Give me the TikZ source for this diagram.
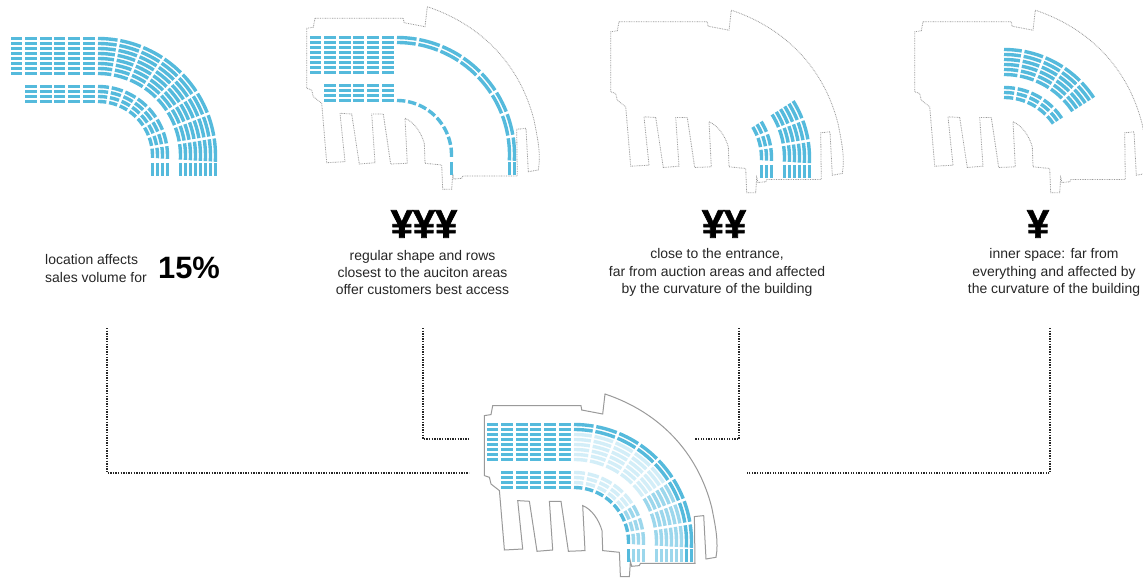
\documentclass[tikz,border=0pt]{standalone}
\usepackage{fontspec}
\setmainfont{Liberation Sans}
\newfontfamily\yenface{Liberation Sans}[BoldFeatures={FakeBold=1.5}]
\definecolor{seatblue}{HTML}{55BADC}
\definecolor{seatmid}{HTML}{9CD7EC}
\definecolor{seatpale}{HTML}{D3EEF8}
\definecolor{plangray}{HTML}{9A9A9A}
% seat drawing: centre of the curve at (98,156) in the first panel
\newcommand\seatarcs[6]{% ox oy colour rows firstseg lastseg
  \foreach \rr in {#4}{\foreach \kk in {#5,...,#6}{
    \pgfmathsetmacro\angA{max(0,\kk*11.75-1.5+80/\rr)}
    \pgfmathsetmacro\angB{(\kk+1)*11.75-1.5+(\kk==7)*1-80/\rr}
    \draw[seat,draw=#3] plot[domain=\angA:\angB,samples=6] ({#1+98+\rr*sin(\x)},{#2+156-\rr*cos(\x)});
  }}}
\newcommand\seathoriz[5]{% ox oy colour rows columns
  \foreach \rr in {#4}{\foreach \xa/\xb in #5{
    \draw[seat,draw=#3] ({#1+\xa},{#2+156-\rr}) -- ({#1+\xb},{#2+156-\rr});
  }}}
\newcommand\seatvert[4]{% ox oy colour rows
  \foreach \rr in {#4}{
    \draw[seat,draw=#3] ({#1+98+\rr},{#2+163}) -- ({#1+98+\rr},{#2+176});
  }}
\newcommand\outercols{11/22,25/37,40/52,54/65,68/80,83/95}
\newcommand\innercols{25/37,40/52,54/65,68/80,83/95}
\newcommand\planoutline[1]{%
  \draw[#1] (315,18.3) -- (403.3,18.3) -- (404,22.7) -- (425,26.7) -- (427.3,6.7)
    .. controls (482,25) and (520,65) .. (534,120)
    .. controls (538,140) and (541,155) .. (538.3,170)
    -- (528.3,171.7) -- (526,128.3) -- (516.7,129.3) -- (517.3,176) -- (462.7,176)
    -- (461.7,178.3) -- (454,179) -- (452.7,174) -- (451.7,189.3) -- (442.7,189.3)
    -- (441.7,165) -- (425,163.3) -- (424.3,143.3)
    .. controls (421,132) and (414,122) .. (405,118.3)
    -- (407.3,163.3) -- (390.7,164) -- (383.3,114) -- (371.7,114) -- (375,162.7)
    -- (359.3,164) -- (351.7,114) -- (340,113.3) -- (345,161.7) -- (326.7,162.7)
    -- (322.7,115) -- (321.7,103.3) -- (313.3,96.7) -- (311.7,90) -- (306.7,88.3)
    -- (306.7,28.3) -- (313.3,27.3) -- cycle;}
\tikzset{
  seat/.style={line width=3.4bp,line cap=butt,line join=round},
  planDots/.style={draw=plangray,line width=.8bp,dash pattern=on .8bp off .9bp},
  planSolid/.style={draw=plangray,line width=1bp},
  lead/.style={draw=black!85,line width=1.3bp,dash pattern=on 1.3bp off 1.3bp},
  caption/.style={align=center,font=\fontsize{14}{17.4}\selectfont,inner sep=0pt,text=black!85},
  yen/.style={font=\fontsize{40}{40}\selectfont\yenface\bfseries,inner sep=0pt},
}
\begin{document}
\begin{tikzpicture}[x=1bp,y=-1bp]
\useasboundingbox (0,0) rectangle (1143,578);
\fill[white] (0,0) rectangle (1143,578);
\clip (0,0) rectangle (1143,578);
% panel A: all seats
\seathoriz{0}{0}{seatblue}{82.5,87.5,92.5,97.5,102.5,107.5,112.5,117.5}{\outercols}
\seathoriz{0}{0}{seatblue}{54.5,59.5,64.5,69.5}{\innercols}
\seatarcs{0}{0}{seatblue}{82.5,87.5,92.5,97.5,102.5,107.5,112.5,117.5}{0}{7}
\seatarcs{0}{0}{seatblue}{54.5,59.5,64.5,69.5}{0}{7}
\seatvert{0}{0}{seatblue}{82.5,87.5,92.5,97.5,102.5,107.5,112.5,117.5}
\seatvert{0}{0}{seatblue}{54.5,59.5,64.5,69.5}
% panel B
\planoutline{planDots}
\seathoriz{299}{-1}{seatblue}{82.5,87.5,92.5,97.5,102.5,107.5,112.5,117.5}{\outercols}
\seathoriz{299}{-1}{seatblue}{54.5,59.5,64.5,69.5}{\innercols}
\seatarcs{299}{-1}{seatblue}{112.5,117.5}{0}{7}
\seatarcs{299}{-1}{seatblue}{54.5}{0}{7}
\seatvert{299}{-1}{seatblue}{112.5,117.5}
\seatvert{299}{-1}{seatblue}{54.5}
% panel C
\begin{scope}[shift={(304,3.5)}]\planoutline{planDots}\end{scope}
\seatarcs{604}{2}{seatblue}{82.5,87.5,92.5,97.5,102.5,107.5}{5}{7}
\seatarcs{604}{2}{seatblue}{59.5,64.5,69.5}{5}{7}
\seatvert{604}{2}{seatblue}{82.5,87.5,92.5,97.5,102.5,107.5}
\seatvert{604}{2}{seatblue}{59.5,64.5,69.5}
% panel D
\begin{scope}[shift={(608,3.5)}]\planoutline{planDots}\end{scope}
\seatarcs{906}{1}{seatblue}{82.5,87.5,92.5,97.5,102.5,107.5}{0}{4}
\seatarcs{906}{1}{seatblue}{59.5,64.5,69.5}{0}{4}
% main plan
\begin{scope}[shift={(177.7,387.3)}]\planoutline{planSolid}\end{scope}
\seatarcs{476}{386}{seatpale}{82.5,87.5,92.5,97.5,102.5,107.5}{0}{4}
\seatarcs{476}{386}{seatpale}{59.5,64.5,69.5}{0}{4}
\seatarcs{476}{386}{seatmid}{82.5,87.5,92.5,97.5,102.5,107.5}{5}{7}
\seatarcs{476}{386}{seatmid}{59.5,64.5,69.5}{5}{7}
\seatvert{476}{386}{seatmid}{82.5,87.5,92.5,97.5,102.5,107.5}
\seatvert{476}{386}{seatmid}{59.5,64.5,69.5}
\seathoriz{476}{386}{seatblue}{82.5,87.5,92.5,97.5,102.5,107.5,112.5,117.5}{\outercols}
\seathoriz{476}{386}{seatblue}{54.5,59.5,64.5,69.5}{\innercols}
\seatarcs{476}{386}{seatblue}{112.5,117.5}{0}{7}
\seatarcs{476}{386}{seatblue}{54.5}{0}{7}
\seatvert{476}{386}{seatblue}{112.5,117.5}
\seatvert{476}{386}{seatblue}{54.5}
% texts
\node[caption,align=left,anchor=west] (capA) at (45,268.5) {location affects\\sales volume for};
\node[inner sep=0pt,font=\fontsize{31}{31}\selectfont\bfseries] (pct) at (189,268) {15\%};
\node[yen] (yenB) at (424,224) {¥¥¥};
\node[caption] (capB) at (422.5,272.5) {regular shape and rows\\closest to the auciton areas\\offer customers best access};
\node[yen] (yenC) at (724,224) {¥¥};
\node[caption] (capC) at (717,272.5) {close to the entrance,\\far from auction areas and affected\\by the curvature of the building};
\node[yen] (yenD) at (1038,224) {¥};
\node[caption] (capD) at (1054,272.5) {inner space: far from\\everything and affected by\\the curvature of the building};
% leaders
\coordinate (a1) at (107,328); \coordinate (a2) at (469,473);
\coordinate (b1) at (423,328); \coordinate (b2) at (469,439);
\coordinate (c1) at (739,328); \coordinate (c2) at (695,439);
\coordinate (d1) at (1050,328); \coordinate (d2) at (747,473);
\draw[lead] (a1) |- (a2);
\draw[lead] (b1) |- (b2);
\draw[lead] (c1) |- (c2);
\draw[lead] (d1) |- (d2);
\end{tikzpicture}
\end{document}
